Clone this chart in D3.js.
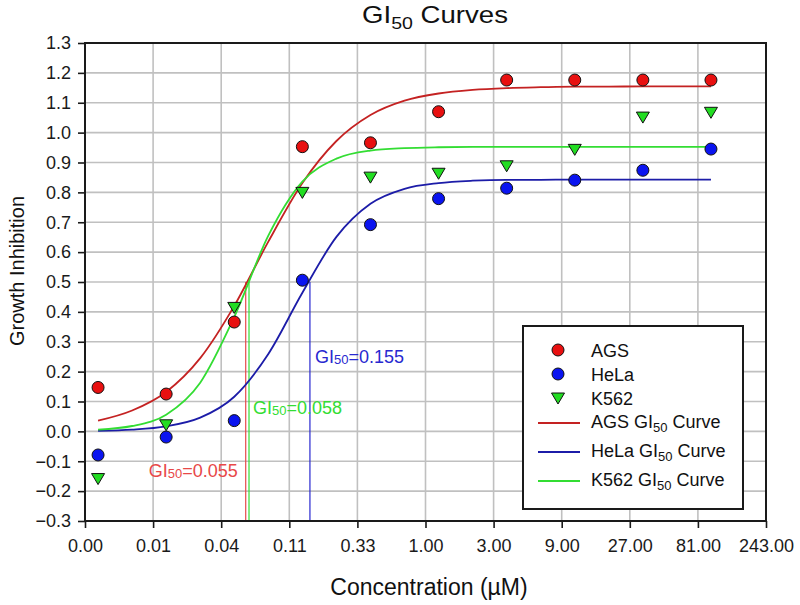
<!DOCTYPE html>
<html>
<head>
<meta charset="utf-8">
<script src="https://cdn.jsdelivr.net/npm/d3@7"></script>
<style>
  html, body { margin: 0; padding: 0; background: #fff; }
  svg { display: block; font-family: "Liberation Sans", Arial, sans-serif; }
</style>
</head>
<body>
<svg id="chart" width="800" height="605"></svg>
<script>
// ---- data ----
const concentrations = [0.00508, 0.01524, 0.04572, 0.1372, 0.4115, 1.2346, 3.7037, 11.111, 33.333, 100];
const agsValues  = [0.147, 0.125, 0.366, 0.953, 0.966, 1.070, 1.176, 1.176, 1.176, 1.176];
const helaValues = [-0.079, -0.019, 0.036, 0.506, 0.692, 0.779, 0.814, 0.841, 0.874, 0.945];
const k562Values = [-0.158, 0.022, 0.415, 0.800, 0.851, 0.864, 0.889, 0.944, 1.052, 1.068];

const curveConcentrations = [0.00508, 0.0088, 0.01524, 0.0264, 0.04572, 0.0792, 0.1372, 0.2376, 0.4115, 0.7128,
                             1.2346, 2.138, 3.7037, 6.415, 11.111, 19.245, 33.333, 57.735, 100];
const agsCurve  = [0.036, 0.070, 0.132, 0.245, 0.420, 0.635, 0.831, 0.972, 1.059, 1.107, 1.131, 1.143, 1.149, 1.152, 1.154, 1.154, 1.155, 1.155, 1.155];
const helaCurve = [0.002, 0.006, 0.017, 0.046, 0.116, 0.259, 0.464, 0.651, 0.762, 0.812, 0.831, 0.839, 0.842, 0.842, 0.843, 0.843, 0.843, 0.843, 0.843];
const k562Curve = [0.006, 0.018, 0.056, 0.163, 0.383, 0.655, 0.836, 0.913, 0.940, 0.948, 0.951, 0.952, 0.952, 0.952, 0.952, 0.952, 0.952, 0.952, 0.952];

const seriesNames = ["AGS", "HeLa", "K562"];
const gi50Values = [0.055, 0.155, 0.058];
const gi50Labels = ["0.055", "0.155", "0.058"];

const xTickValues = [1/243, 1/81, 1/27, 1/9, 1/3, 1, 3, 9, 27, 81, 243];
const yTickValues = [-0.3, -0.2, -0.1, 0.0, 0.1, 0.2, 0.3, 0.4, 0.5, 0.6, 0.7, 0.8, 0.9, 1.0, 1.1, 1.2, 1.3];

// ---- styles ----
const markerFill = ["#e81010", "#0a14f0", "#22dd22"];
const curveColor = ["#c42222", "#1c1ca8", "#33dd33"];
const gi50Color  = ["#e84848", "#2828d0", "#33dd33"];
const gridColor = "#c0c0c0";
const frameColor = "#1a1a1a";

const svg = d3.select("#chart");
const pLeft = 85, pRight = 766, pTop = 43, pBottom = 521;

const x = d3.scaleLog().base(3).domain([1/243, 243]).range([pLeft, pRight]);
const y = d3.scaleLinear().domain([-0.3, 1.3]).range([pBottom, pTop]);

// grid
const grid = svg.append("g");
grid.selectAll("line.gx").data(xTickValues).join("line")
  .attr("class", "gx")
  .attr("x1", d => x(d)).attr("x2", d => x(d)).attr("y1", pTop).attr("y2", pBottom)
  .attr("stroke", gridColor).attr("stroke-width", 1.6);
grid.selectAll("line.gy").data(yTickValues).join("line")
  .attr("class", "gy")
  .attr("x1", pLeft).attr("x2", pRight).attr("y1", d => y(d)).attr("y2", d => y(d))
  .attr("stroke", gridColor).attr("stroke-width", 1.6);

// axes
const xAxis = d3.axisBottom(x).tickValues(xTickValues).tickFormat(d3.format(".2f"))
  .tickSizeInner(7).tickSizeOuter(0).tickPadding(11);
const yAxis = d3.axisLeft(y).tickValues(yTickValues).tickFormat(d3.format(".1f"))
  .tickSizeInner(7).tickSizeOuter(0).tickPadding(7);

const gx = svg.append("g").attr("transform", `translate(0,${pBottom})`).call(xAxis);
const gy = svg.append("g").attr("transform", `translate(${pLeft},0)`).call(yAxis);
[gx, gy].forEach(g => {
  g.select(".domain").remove();
  g.selectAll(".tick line").attr("stroke", frameColor).attr("stroke-width", 1.6);
  g.selectAll(".tick text").attr("fill", "#1a1a1a").style("font-size", "18px")
    .style("font-family", '"Liberation Sans", Arial, sans-serif');
});

// frame
svg.append("rect").attr("x", pLeft).attr("y", pTop).attr("width", pRight - pLeft).attr("height", pBottom - pTop)
  .attr("fill", "none").attr("stroke", frameColor).attr("stroke-width", 2);

// GI50 vertical lines
gi50Values.forEach((g, i) => {
  svg.append("line")
    .attr("x1", x(g)).attr("x2", x(g)).attr("y1", y(0.5)).attr("y2", pBottom - 1)
    .attr("stroke", gi50Color[i]).attr("stroke-width", 1.2);
});

// curves
const line = d3.line().x(d => x(d[0])).y(d => y(d[1])).curve(d3.curveMonotoneX);
[agsCurve, helaCurve, k562Curve].forEach((c, i) => {
  svg.append("path")
    .datum(curveConcentrations.map((cc, j) => [cc, c[j]]))
    .attr("d", line).attr("fill", "none")
    .attr("stroke", curveColor[i]).attr("stroke-width", 1.8);
});

// markers
const triPath = "M-6.5,-5L6.5,-5L0,6Z";
function drawMarker(g, type, fill) {
  if (type === "tri") {
    g.append("path").attr("d", triPath).attr("fill", fill).attr("stroke", "#111").attr("stroke-width", 1);
  } else {
    g.append("circle").attr("r", 6).attr("fill", fill).attr("stroke", "#111").attr("stroke-width", 1);
  }
}
const markerTypes = ["circle", "circle", "tri"];
[agsValues, helaValues, k562Values].forEach((vals, i) => {
  vals.forEach((v, j) => {
    const g = svg.append("g").attr("transform", `translate(${x(concentrations[j])},${y(v)})`);
    drawMarker(g, markerTypes[i], markerFill[i]);
  });
});

// GI50 annotations
function gi50Text(xp, yp, label, color) {
  const t = svg.append("text").attr("x", xp).attr("y", yp).attr("fill", color).style("font-size", "18px");
  t.append("tspan").text("GI");
  t.append("tspan").text("50").style("font-size", "13px").attr("dy", 1);
  t.append("tspan").text("=" + label).attr("dy", -1);
}
gi50Text(x(gi50Values[0]) - 97, 477, gi50Labels[0], gi50Color[0]);
gi50Text(x(gi50Values[2]) + 4, 414, gi50Labels[2], gi50Color[2]);
gi50Text(x(gi50Values[1]) + 5, 363, gi50Labels[1], gi50Color[1]);

// title
const title = svg.append("text").attr("transform", "translate(362,23) scale(1.15,1)")
  .attr("fill", "#111").style("font-size", "24px");
title.append("tspan").text("GI");
title.append("tspan").text("50").style("font-size", "17px").attr("dy", 6);
title.append("tspan").text(" Curves").attr("dy", -6);

// axis titles
svg.append("text").attr("x", 429).attr("y", 595).attr("text-anchor", "middle")
  .attr("fill", "#111").style("font-size", "23px").text("Concentration (µM)");
svg.append("text").attr("transform", "translate(24,271) rotate(-90)").attr("text-anchor", "middle")
  .attr("fill", "#111").style("font-size", "20px").text("Growth Inhibition");

// legend
const lg = svg.append("g");
lg.append("rect").attr("x", 523).attr("y", 326).attr("width", 220).attr("height", 183)
  .attr("fill", "#fff").attr("stroke", frameColor).attr("stroke-width", 2);
const symRows = [350, 374, 398];
seriesNames.forEach((name, i) => {
  const g = lg.append("g").attr("transform", `translate(558,${symRows[i]})`);
  drawMarker(g, markerTypes[i], markerFill[i]);
  lg.append("text").attr("x", 591).attr("y", symRows[i] + 6.5).attr("fill", "#111")
    .style("font-size", "18px").text(name);
});
const lineRows = [423, 452, 481];
seriesNames.forEach((name, i) => {
  lg.append("line").attr("x1", 538).attr("x2", 580).attr("y1", lineRows[i]).attr("y2", lineRows[i])
    .attr("stroke", curveColor[i]).attr("stroke-width", 1.8);
  const t = lg.append("text").attr("x", 591).attr("y", lineRows[i] + 5).attr("fill", "#111").style("font-size", "18px");
  t.append("tspan").text(name + " GI");
  t.append("tspan").text("50").style("font-size", "13px").attr("dy", 4);
  t.append("tspan").text(" Curve").attr("dy", -4);
});
</script>
</body>
</html>
